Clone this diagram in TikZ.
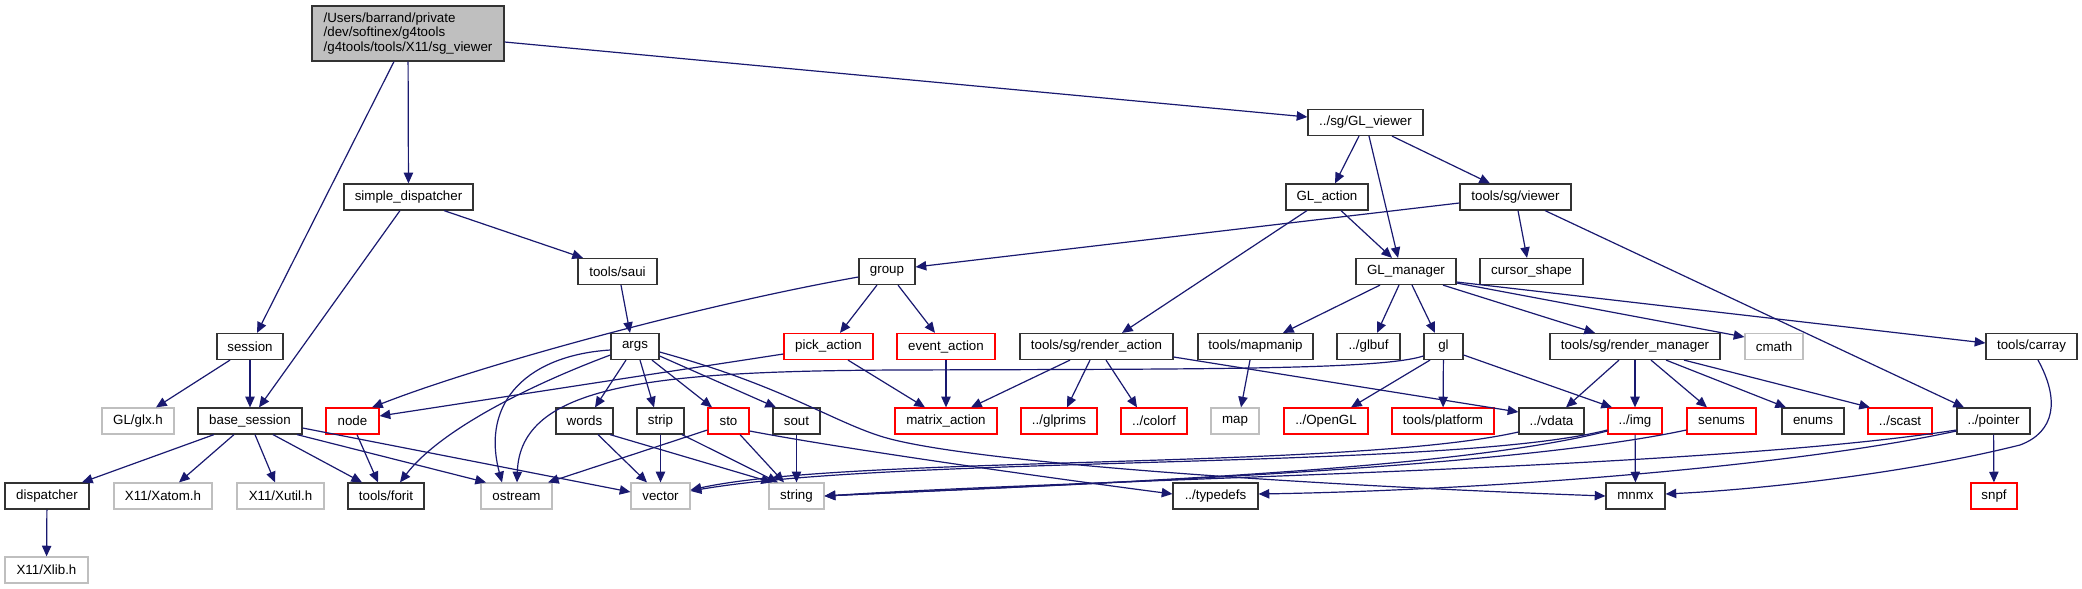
\documentclass[tikz,border=0pt]{standalone}
\usepackage{fontspec}
\setmainfont{Liberation Sans}
\usetikzlibrary{arrows.meta}
\definecolor{edgeblue}{HTML}{191970}
\definecolor{lgray}{HTML}{BFBFBF}
\begin{document}
\begin{tikzpicture}[x=0.75pt,y=-0.75pt,
  nd/.style={draw, line width=0.9pt, minimum height=19.5pt, inner sep=0pt, fill=white, text=black, font=\fontsize{10}{12}\selectfont},
  blk/.style={nd, draw=black!80},
  gry/.style={nd, draw=lgray},
  redbox/.style={nd, draw=red},
  wd/.style={minimum width=#1*0.75pt},
  dep/.style={draw=edgeblue, line width=0.9pt, -{Triangle[length=8pt,width=7pt]}}]
\useasboundingbox (0,0) rectangle (2082,589);
\fill[white] (0,0) rectangle (2082,589);
% row 0
\node[blk, fill=lgray, wd=192, minimum height=41.25pt, align=left, font=\fontsize{10}{10.9}\selectfont] (root) at (408,33.5) {/Users/barrand/private\\/dev/softinex/g4tools\\/g4tools/tools/X11/sg\_viewer};
% row 1
\node[blk, wd=115] (glv) at (1365.5,122.5) {../sg/GL\_viewer};
% row 2
\node[blk, wd=129] (sd) at (408.5,197) {simple\_dispatcher};
\node[blk, wd=82] (glact) at (1327,197) {GL\_action};
\node[blk, wd=111] (sgv) at (1515.5,197) {tools/sg/viewer};
% row 3
\node[blk, wd=79] (saui) at (617.5,271.5) {tools/saui};
\node[blk, wd=56] (group) at (887,271.5) {group};
\node[blk, wd=100] (glm) at (1406,271.5) {GL\_manager};
\node[blk, wd=103] (cursor) at (1531.5,271.5) {cursor\_shape};
% row 4
\node[blk, wd=66] (session) at (250,346.5) {session};
\node[blk, wd=48] (args) at (635,346.5) {args};
\node[redbox, wd=89] (pick) at (828.5,346.5) {pick\_action};
\node[redbox, wd=98] (event) at (946,346.5) {event\_action};
\node[blk, wd=153] (ract) at (1096.5,346.5) {tools/sg/render\_action};
\node[blk, wd=115] (mapm) at (1255.5,346.5) {tools/mapmanip};
\node[blk, wd=63] (glbuf) at (1368.5,346.5) {../glbuf};
\node[blk, wd=39] (gl) at (1443.5,346.5) {gl};
\node[blk, wd=170] (rman) at (1635,346.5) {tools/sg/render\_manager};
\node[gry, wd=58] (cmath) at (1774,346.5) {cmath};
\node[blk, wd=91] (carray) at (2031.5,346.5) {tools/carray};
% row 5
\node[gry, wd=72] (glx) at (138,421) {GL/glx.h};
\node[blk, wd=104] (bases) at (250,421) {base\_session};
\node[redbox, wd=53] (node) at (352.5,421) {node};
\node[blk, wd=57] (words) at (584.5,421) {words};
\node[blk, wd=47] (strip) at (660.5,421) {strip};
\node[redbox, wd=41] (sto) at (728.5,421) {sto};
\node[blk, wd=47] (sout) at (796.5,421) {sout};
\node[redbox, wd=102] (matrix) at (946,421) {matrix\_action};
\node[redbox, wd=76] (glprims) at (1059,421) {../glprims};
\node[redbox, wd=66] (colorf) at (1154,421) {../colorf};
\node[gry, wd=48] (map) at (1235,421) {map};
\node[redbox, wd=84] (opengl) at (1326,421) {../OpenGL};
\node[redbox, wd=102] (platform) at (1443,421) {tools/platform};
\node[blk, wd=65] (vdata) at (1551.5,421) {../vdata};
\node[redbox, wd=54] (img) at (1635,421) {../img};
\node[redbox, wd=69] (senums) at (1721.5,421) {senums};
\node[blk, wd=62] (enums) at (1813,421) {enums};
\node[redbox, wd=64] (scast) at (1900,421) {../scast};
\node[blk, wd=73] (pointer) at (1993.5,421) {../pointer};
% row 6
\node[blk, wd=84] (dispatcher) at (47,496) {dispatcher};
\node[gry, wd=98] (xatom) at (163,496) {X11/Xatom.h};
\node[gry, wd=87] (xutil) at (280.5,496) {X11/Xutil.h};
\node[blk, wd=76] (forit) at (386,496) {tools/forit};
\node[gry, wd=71] (ostream) at (516.5,496) {ostream};
\node[gry, wd=59] (vector) at (660.5,496) {vector};
\node[gry, wd=55] (string) at (796.5,496) {string};
\node[blk, wd=85] (typedefs) at (1215.5,496) {../typedefs};
\node[blk, wd=59] (mnmx) at (1635.5,496) {mnmx};
\node[redbox, wd=46] (snpf) at (1994,496) {snpf};
% row 7
\node[gry, wd=83] (xlib) at (46.5,570) {X11/Xlib.h};

% edges from root
\draw[dep] (root.east |- 0,42) -- (glv.west |- 0,117);
\draw[dep] (root) -- (sd);
\draw[dep] (root.south -| 394,0) -- (session.north -| 257,0);
\draw[dep] (sd.south -| 444,0) -- (saui.north -| 583,0);
\draw[dep] (sd.south -| 400,0) -- (bases.north -| 259,0);
\draw[dep] (session.south -| 230,0) -- (glx.north -| 156,0);
\draw[dep] (session) -- (bases);
\draw[dep] (saui.south -| 621,0) -- (args.north -| 630,0);
% base_session
\draw[dep] (bases.south -| 214,0) -- (dispatcher.north -| 82,0);
\draw[dep] (bases.south -| 234,0) -- (xatom.north -| 179,0);
\draw[dep] (bases.south -| 255,0) -- (xutil.north -| 275,0);
\draw[dep] (bases.south -| 273,0) -- (forit.north -| 362,0);
\draw[dep] (bases.south -| 297,0) -- (ostream.north -| 486,0);
\draw[dep] (bases.east |- 0,428) -- (vector.west |- 0,492);
\draw[dep] (dispatcher) -- (xlib);
\draw[dep] (node.south -| 357,0) -- (forit.north -| 378,0);
\draw[dep] (group.west |- 0,277) .. controls (700,305) and (480,365) .. (node.north -| 372,0);
\draw[dep] (pick.west |- 0,354) -- (node.east |- 0,416);
% args
\draw[dep] (args.west |- 0,355) .. controls (530,385) and (440,430) .. (forit.north -| 400,0);
\draw[dep] (args.west |- 0,350) .. controls (530,355) and (480,400) .. (ostream.north -| 502,0);
\draw[dep] (args.south -| 626,0) -- (words.north -| 595,0);
\draw[dep] (args.south -| 640,0) -- (strip.north -| 654,0);
\draw[dep] (args.south -| 652,0) -- (sto.north -| 712,0);
\draw[dep] (args.east |- 0,356) -- (sout.north -| 776,0);
\draw[dep] (args.east |- 0,352) .. controls (780,385) and (830,420) .. (880,436) .. controls (960,462) and (1300,485) .. (mnmx.west |- 0,496);
\draw[dep] (words.south -| 598,0) -- (vector.north -| 647,0);
\draw[dep] (words.south -| 610,0) -- (string.north -| 772,0);
\draw[dep] (strip) -- (vector);
\draw[dep] (strip.south -| 682,0) -- (string.north -| 778,0);
\draw[dep] (sto.west |- 0,430) -- (ostream.north -| 548,0);
\draw[dep] (sto.south -| 740,0) -- (string.north -| 784,0);
\draw[dep] (sto.east |- 0,431) .. controls (850,450) and (1050,478) .. (typedefs.west |- 0,494);
\draw[dep] (sout) -- (string);
% group & actions
\draw[dep] (group.south -| 877,0) -- (pick.north -| 840,0);
\draw[dep] (group.south -| 898,0) -- (event.north -| 935,0);
\draw[dep] (pick.south -| 848,0) -- (matrix.north -| 925,0);
\draw[dep] (event) -- (matrix);
\draw[dep] (ract.south -| 1070,0) -- (matrix.north -| 971,0);
\draw[dep] (ract.south -| 1090,0) -- (glprims.north -| 1067,0);
\draw[dep] (ract.south -| 1106,0) -- (colorf.north -| 1137,0);
\draw[dep] (ract.east |- 0,357) -- (vdata.west |- 0,412);
\draw[dep] (mapm.south -| 1250,0) -- (map.north -| 1241,0);
% gl
\draw[dep] (gl.south -| 1430,0) -- (opengl.north -| 1351,0);
\draw[dep] (gl) -- (platform);
\draw[dep] (gl.east |- 0,355) -- (img.north -| 1612,0);
\draw[dep] (gl.west |- 0,356) .. controls (1380,370) and (1200,369) .. (900,370) .. controls (650,371) and (520,385) .. (ostream.north -| 517,0);
% GL_manager
\draw[dep] (glm.south -| 1380,0) -- (mapm.north -| 1283,0);
\draw[dep] (glm.south -| 1399,0) -- (glbuf.north -| 1377,0);
\draw[dep] (glm.south -| 1412,0) -- (gl.north -| 1435,0);
\draw[dep] (glm.south -| 1443,0) -- (rman.north -| 1595,0);
\draw[dep] (glm.east |- 0,283) -- (cmath.west |- 0,337);
\draw[dep] (glm.east |- 0,282) -- (carray.west |- 0,343);
% GL_viewer
\draw[dep] (glv.south -| 1359,0) -- (glact.north -| 1335,0);
\draw[dep] (glv.south -| 1369,0) -- (glm.north -| 1398,0);
\draw[dep] (glv.south -| 1392,0) -- (sgv.north -| 1490,0);
\draw[dep] (glact.south -| 1341,0) -- (glm.north -| 1392,0);
\draw[dep] (glact.south -| 1307,0) -- (ract.north -| 1122,0);
\draw[dep] (sgv.west |- 0,203) -- (group.east |- 0,267);
\draw[dep] (sgv.south -| 1518,0) -- (cursor.north -| 1527,0);
\draw[dep] (sgv.south -| 1545,0) -- (pointer.north -| 1964,0);
% render_manager
\draw[dep] (rman.south -| 1619,0) -- (vdata.north -| 1566,0);
\draw[dep] (rman) -- (img);
\draw[dep] (rman.south -| 1651,0) -- (senums.north -| 1707,0);
\draw[dep] (rman.south -| 1666,0) -- (enums.north -| 1786,0);
\draw[dep] (rman.south -| 1684,0) -- (scast.north -| 1870,0);
\draw[dep] (img) -- (mnmx);
\draw[dep] (carray.south -| 2038,0) .. controls (2060,400) and (2055,432) .. (2020,445) .. controls (1900,475) and (1750,490) .. (mnmx.east |- 0,494);
\draw[dep] (pointer) -- (snpf);
\draw[dep] (pointer.west |- 0,431) .. controls (1800,465) and (1500,490) .. (typedefs.east |- 0,494);
\draw[dep] (pointer.west |- 0,430) .. controls (1700,470) and (1100,478) .. (string.east |- 0,496);
\draw[dep] (vdata.west |- 0,432) .. controls (1350,470) and (850,455) .. (vector.east |- 0,490);
\draw[dep] (img.west |- 0,430) .. controls (1450,470) and (900,455) .. (vector.east |- 0,491);
\draw[dep] (img.west |- 0,431) .. controls (1450,472) and (1050,485) .. (string.east |- 0,496);
\draw[dep] (senums.west |- 0,430) .. controls (1500,470) and (1050,485) .. (string.east |- 0,496);
\end{tikzpicture}
\end{document}
